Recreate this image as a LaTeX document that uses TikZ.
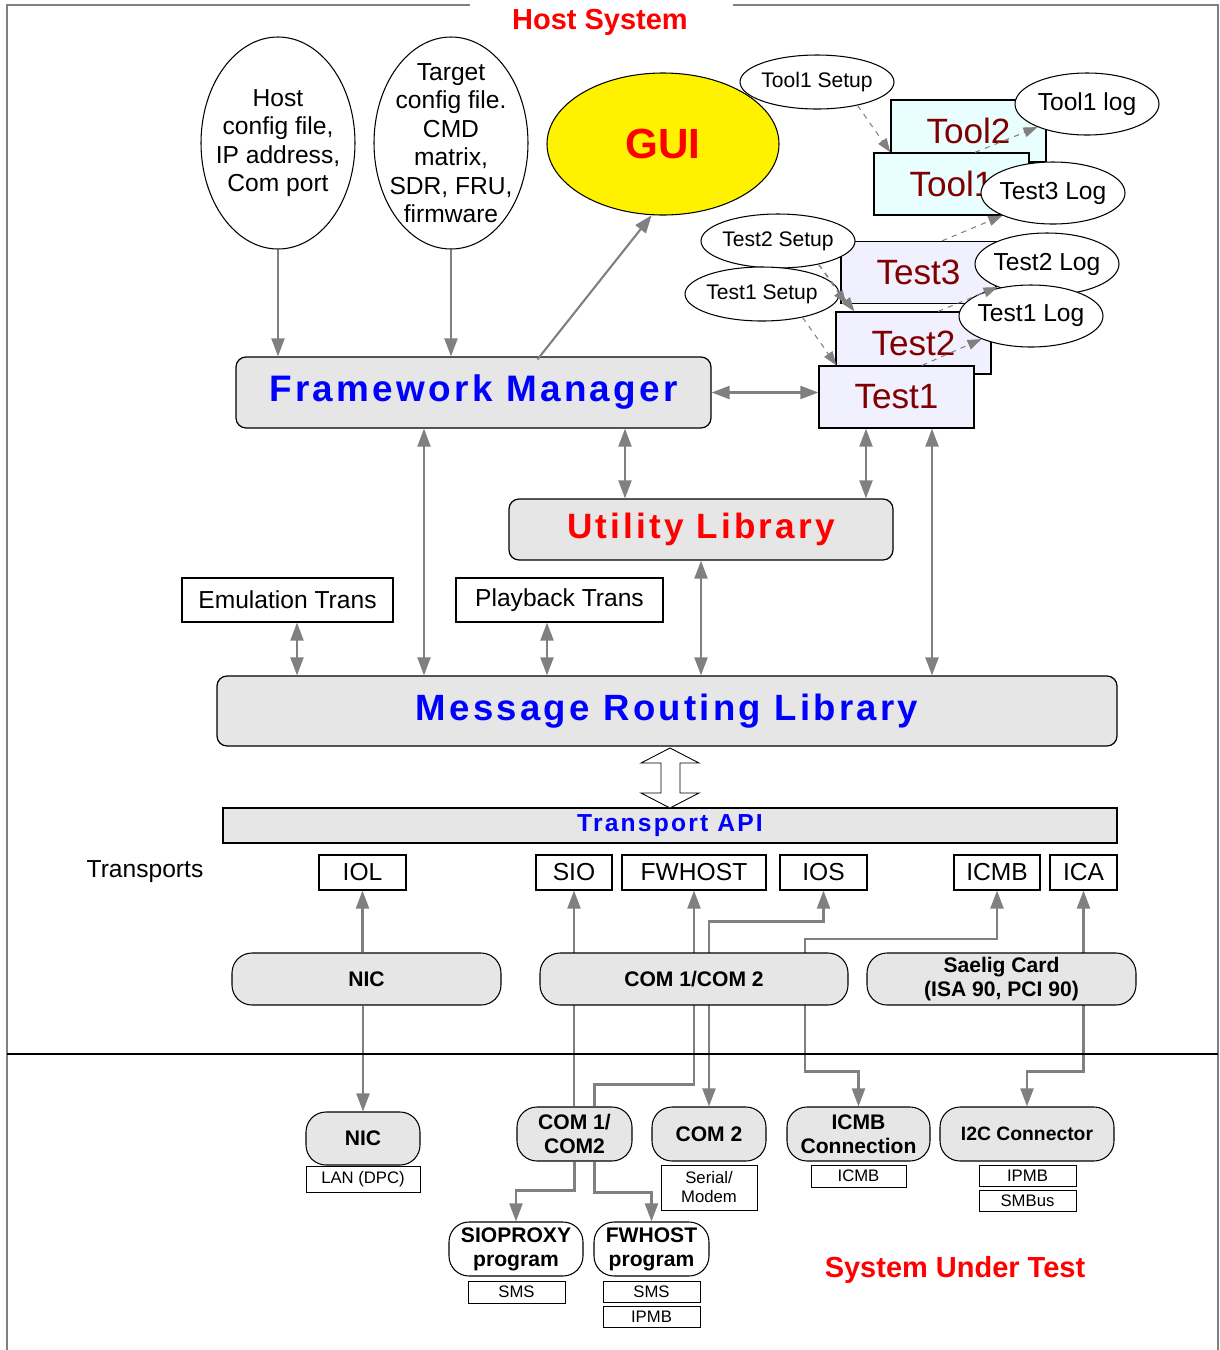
\documentclass[tikz,border=0pt]{standalone}
\usepackage{fontspec}
\setmainfont{Liberation Sans}
\newfontfamily\spacedfont[LetterSpace=9]{Liberation Sans}
\usepackage{tikz}
\usetikzlibrary{arrows.meta,calc,backgrounds,shapes.geometric}

\definecolor{boxgray}{HTML}{E6E6E6}
\definecolor{linegray}{HTML}{808080}
\definecolor{toolcyan}{HTML}{E8FEFF}
\definecolor{testblue}{HTML}{F0F0FF}
\definecolor{labelred}{HTML}{800000}
\newcommand{\fs}[2]{\fontsize{#1}{#2}\selectfont}

\begin{document}
\begin{tikzpicture}[x=0.02cm, y=-0.02cm,
  px/.style 2 args={minimum width=#1*0.02cm, minimum height=#2*0.02cm},
  oval/.style={ellipse, draw, fill=white, line width=0.6pt, inner xsep=-0.5cm, inner ysep=-0.3cm, align=center},
  mgr/.style={rectangle, draw, fill=boxgray, rounded corners=0.2cm, inner sep=0pt, line width=0.7pt},
  transbox/.style={rectangle, draw, fill=white, inner sep=0pt, line width=0.6pt, font=\fs{14}{16}},
  toolbox/.style={rectangle, draw, fill=toolcyan, inner sep=0pt, text=labelred, font=\fs{20}{24}, line width=0.7pt, px={155}{62}},
  testbox/.style={toolbox, fill=testblue},
  port/.style={rectangle, draw, fill=boxgray, rounded corners=0.4cm, inner sep=0pt, align=center, font=\fs{12}{13.6}\bfseries, line width=0.6pt},
  tag/.style={rectangle, draw, fill=white, inner sep=0pt, align=center, font=\fs{9.5}{10.8}, line width=0.5pt},
  flow/.style={draw=linegray, line width=1.2pt, -{Triangle[length=0.36cm,width=0.26cm]}},
  biflow/.style={draw=linegray, line width=1.2pt, {Triangle[length=0.36cm,width=0.26cm]}-{Triangle[length=0.36cm,width=0.26cm]}},
  setupflow/.style={draw=linegray, line width=0.6pt, dashed, -{Triangle[length=0.28cm,width=0.2cm]}}]
\useasboundingbox (0,0) rectangle (1220,1350);

\draw[linegray, line width=1.1pt] (470,5) -- (7,5) -- (7,1350);
\draw[linegray, line width=1.1pt] (733,5) -- (1218,5) -- (1218,1350);
\draw[line width=0.6pt] (7,1054) -- (1218,1054);
\node[text=red, font=\fs{16.5}{19}\bfseries] (host) at (600,22) {Host System};
\node[text=red, font=\fs{16.5}{19}\bfseries] (sut) at (955,1270) {System Under Test};

\node[oval, px={154}{212}, font=\fs{14}{16.2}] (hostcfg) at (278,143) {Host\\config file,\\IP address,\\Com port};
\node[oval, px={154}{212}, font=\fs{14}{16.2}] (tgtcfg) at (451,143) {Target\\config file.\\CMD\\matrix,\\SDR, FRU,\\firmware};
\node[oval, px={232}{142}, fill=yellow, text=red, font=\fs{24}{28}\bfseries] (gui) at (663,144) {GUI};

\node[toolbox] (tool2) at (968.5,131) {Tool2};
\node[toolbox] (tool1) at (951.5,184) {Tool1};
\node[oval, px={154}{54}, font=\fs{12}{14}] (tool1setup) at (817,82) {Tool1 Setup};
\node[oval, px={144}{62}, font=\fs{14}{16}] (tool1log) at (1087,104) {Tool1 log};
\node[oval, px={144}{62}, font=\fs{14}{16}] (test3log) at (1053,193) {Test3 Log};
\node[testbox] (test3) at (918.5,272.5) {Test3};
\node[oval, px={154}{54}, font=\fs{12}{14}] (test2setup) at (778,241) {Test2 Setup};
\node[oval, px={144}{62}, font=\fs{14}{16}] (test2log) at (1047,264) {Test2 Log};
\node[testbox] (test2) at (913.5,343) {Test2};
\node[oval, px={144}{62}, font=\fs{14}{16}] (test1log) at (1031,316) {Test1 Log};
\node[oval, px={154}{54}, font=\fs{12}{14}] (test1setup) at (762,294) {Test1 Setup};
\node[testbox] (test1) at (896.5,397) {Test1};

\node[mgr, px={475}{71}, text=blue, font={\spacedfont\fs{21}{25}\bfseries}] (fm) at (473.5,392.5) {Framework Manager};
\node[mgr, px={384}{61}, text=red, font={\spacedfont\fs{20}{24}\bfseries}] (util) at (701,529.5) {Utility Library};
\node[transbox, px={211}{44}] (emu) at (287.5,600) {Emulation Trans};
\node[transbox, px={207}{44}] (play) at (559.5,600) {Playback Trans};
\node[mgr, px={900}{70}, text=blue, font={\spacedfont\fs{20.8}{24}\bfseries}] (mrl) at (667,711) {Message Routing Library};
\node[rectangle, draw, fill=boxgray, inner sep=0pt, line width=0.6pt, px={894}{35}, text=blue, font={\spacedfont\fs{14}{16}\bfseries}] (tapi) at (670,825.5) {Transport API};
\draw[line width=0.5pt, fill=white] (670,748) -- (699,763) -- (680,763) -- (680,793) -- (699,793) -- (670,808)
  -- (641,793) -- (661,793) -- (661,763) -- (641,763) -- cycle;

\node[font=\fs{14}{16}] (transports) at (145,872) {Transports};
\node[transbox, px={87}{35}] (iol) at (362.5,872.5) {IOL};
\node[transbox, px={76}{35}] (sio) at (574,872.5) {SIO};
\node[transbox, px={144}{35}] (fwhost) at (694,872.5) {FWHOST};
\node[transbox, px={87}{35}] (ios) at (823.5,872.5) {IOS};
\node[transbox, px={86}{35}] (icmb) at (997,872.5) {ICMB};
\node[transbox, px={67}{35}] (ica) at (1083.5,872.5) {ICA};

\node[port, px={269}{52}] (nic) at (366.5,979) {NIC};
\node[port, px={308}{52}] (com) at (694,979) {COM 1/COM 2};
\node[port, px={269}{52}] (saelig) at (1001.5,979) {Saelig Card\\(ISA 90, PCI 90)};

\node[port, px={114}{53}] (nicb) at (363,1138.5) {NIC};
\node[tag, px={114}{26}] (lan) at (363,1179) {LAN (DPC)};
\node[port, px={115}{54}] (com12) at (574.5,1134) {COM 1/\\COM2};
\node[port, px={114}{54}] (com2) at (709,1134) {COM 2};
\node[tag, px={96}{45}] (serial) at (709,1187.5) {Serial/\\Modem};
\node[port, px={143}{54}] (icmbc) at (858.5,1134) {ICMB\\Connection};
\node[tag, px={95}{22}] (icmbl) at (858.5,1176) {ICMB};
\node[port, px={174}{54}, font=\fs{11}{13}\bfseries] (i2c) at (1027,1134) {I2C Connector};
\node[tag, px={97}{21}] (ipmb) at (1027.5,1175.5) {IPMB};
\node[tag, px={97}{21}] (smbus) at (1027.5,1200.5) {SMBus};
\node[port, px={134}{54}, fill=white] (sioproxy) at (516,1249) {SIOPROXY\\program};
\node[tag, px={97}{22}] (sms1) at (516.5,1292) {SMS};
\node[port, px={115}{54}, fill=white] (fwprog) at (651.5,1249) {FWHOST\\program};
\node[tag, px={97}{21}] (sms2) at (651.5,1291.5) {SMS};
\node[tag, px={97}{21}] (ipmb2) at (651.5,1316.5) {IPMB};
\coordinate (icmbjog) at (805,939);

\draw[flow] (hostcfg.south) -- (hostcfg.south |- fm.north);
\draw[flow] (tgtcfg.south) -- (tgtcfg.south |- fm.north);
\draw[flow] ($(fm.north)+(64,3)$) -- (gui.-99);
\draw[biflow] (fm.east) -- (fm.east -| test1.west);
\draw[biflow] ($(fm.south)+(-49.5,0)$) -- ($(fm.south |- mrl.north)+(-49.5,0)$);
\draw[biflow] ($(fm.south)+(151.5,0)$) -- ($(fm.south |- util.north)+(151.5,0)$);
\draw[biflow] ($(test1.south)+(-30.5,0)$) -- ($(test1.south |- util.north)+(-30.5,0)$);
\draw[biflow] ($(test1.south)+(35.5,0)$) -- ($(test1.south |- mrl.north)+(35.5,0)$);
\draw[biflow] (util.south) -- (util.south |- mrl.north);
\draw[biflow] ($(emu.south)+(9.5,0)$) -- ($(emu.south |- mrl.north)+(9.5,0)$);
\draw[biflow] ($(play.south)+(-12.5,0)$) -- ($(play.south |- mrl.north)+(-12.5,0)$);

\draw[setupflow] (tool1setup.-30) -- (tool2.west |- tool1.north);
\draw[setupflow] ($(tool1.north)+(23.5,0)$) -- (tool1log.205);
\draw[setupflow] ($(test3.north)+(23.5,0)$) -- (test3log.204);
\draw[setupflow] (test2setup.-30) -- ($(test3.south west)+(6,0)$);
\draw[setupflow] (test2setup.-30) -- ($(test2.north west)+(19,0)$);
\draw[setupflow] ($(test2.north)+(24.5,0)$) -- (test2log.205);
\draw[setupflow] (test1setup.-30) -- ($(test1.north west)+(18,0)$);
\draw[setupflow] ($(test1.north)+(25.5,0)$) -- (test1log.205);

\begin{scope}[on background layer]
\draw[flow] (nic.north -| iol.south) -- (iol.south);
\draw[flow] (nic.south -| nicb.north) -- (nicb.north);
\draw[flow] (com12.north -| sio.south) -- (sio.south);
\draw[flow] (com12.south) -- ++(0,29) -| (sioproxy.north);
\draw[flow] ($(com12.north)+(20,0)$) -- ++(0,-22) -| (fwhost.south);
\draw[flow] ($(com12.south)+(20,0)$) -- ++(0,31) -| (fwprog.north);
\draw[biflow] (com2.north) -- ++(0,-185) -| (ios.south);
\draw[biflow] (icmbc.north) -- ++(0,-35) -| (icmbjog) -| (icmb.south);
\draw[biflow] (i2c.north) -- ++(0,-35) -| (ica.south);
\end{scope}
\end{tikzpicture}
\end{document}
